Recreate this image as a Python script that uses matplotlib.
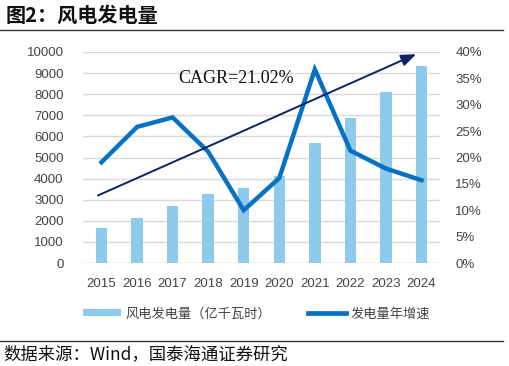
import matplotlib
matplotlib.use("Agg")
import matplotlib.pyplot as plt
from matplotlib.lines import Line2D
from matplotlib.patches import Patch
from matplotlib.ticker import FuncFormatter

CJK = ["Noto Sans CJK SC", "DejaVu Sans"]
SERIF = ["Liberation Serif", "Noto Sans CJK SC"]

years = ["2015", "2016", "2017", "2018", "2019", "2020", "2021", "2022", "2023", "2024"]
generation = [1673, 2118, 2700, 3256, 3577, 4146, 5667, 6867, 8090, 9360]  # 亿千瓦时
growth = [19.1, 25.8, 27.6, 21.1, 10.0, 16.1, 36.7, 21.3, 17.9, 15.7]      # %
left_ticks = list(range(0, 10001, 1000))
right_ticks = list(range(0, 41, 5))
cagr_label = "CAGR=21.02%"
arrow_start = (-0.1, 12.8)   # (x index, %)
arrow_end = (8.85, 39.6)

BAR_C = "#8ECAEB"
LINE_C = "#0872C2"
ARROW_C = "#0C2466"
GRID_C = "#D9D9D9"
TICK_C = "#444444"

fig = plt.figure(figsize=(5.1, 3.66), dpi=100)
ax = fig.add_axes([83 / 510, 1 - 263 / 366, (440 - 83) / 510, (263 - 52) / 366])
ax2 = ax.twinx()

x = list(range(len(years)))
ax.bar(x, generation, width=0.32, color=BAR_C, zorder=2)
ax.set_ylim(0, 10000)
ax.set_yticks(left_ticks)
ax.set_xlim(-0.52, 9.52)
ax.set_xticks(x)
ax.set_xticklabels(years)
ax.grid(axis="y", color=GRID_C, linewidth=1.0, zorder=0)
ax.set_axisbelow(True)

ax2.plot(x, growth, color=LINE_C, linewidth=3.2, solid_joinstyle="miter", zorder=3)
ax2.set_ylim(0, 40)
ax2.set_yticks(right_ticks)
ax2.yaxis.set_major_formatter(FuncFormatter(lambda v, p: f"{v:.0f}%"))

ax2.annotate("", xy=arrow_end, xytext=arrow_start,
             arrowprops=dict(arrowstyle="-|>,head_length=0.9,head_width=0.35",
                             color=ARROW_C, lw=1.4, shrinkA=0, shrinkB=0), zorder=4)
ax2.text(2.15, 35.0, cagr_label, fontsize=13, family=SERIF, color="#111111",
         ha="left", va="center", zorder=5)

for a in (ax, ax2):
    for s in a.spines.values():
        s.set_visible(False)
    a.tick_params(length=0, labelsize=9.5, colors=TICK_C)
    for lab in a.get_xticklabels() + a.get_yticklabels():
        lab.set_family("Liberation Sans")
ax.tick_params(axis="y", pad=14)
ax.tick_params(axis="x", pad=11)
ax2.tick_params(axis="y", pad=11)
ax.axhline(0, color=GRID_C, linewidth=1.0, zorder=1)

handles = [Patch(facecolor=BAR_C, edgecolor="none"),
           Line2D([0], [0], color=LINE_C, linewidth=3.4)]
leg = fig.legend(handles, ["风电发电量（亿千瓦时）", "发电量年增速"],
                 loc="center left", bbox_to_anchor=(71 / 510, 1 - 314 / 366), ncol=2,
                 frameon=False, prop={"family": CJK, "size": 9.5},
                 handlelength=2.9, handleheight=0.45, columnspacing=2.75,
                 handletextpad=0.35)
for t in leg.get_texts():
    t.set_color(TICK_C)

# title, rules and source
fig.text(0.010, 1 - 15 / 366, "图2：风电发电量", fontsize=14.5, fontweight="bold",
         family=CJK, ha="left", va="center", color="#111111")
fig.add_artist(Line2D([0, 503 / 510], [1 - 30 / 366] * 2, color="#333333", linewidth=1.0))
fig.add_artist(Line2D([0, 503 / 510], [1 - 340.5 / 366] * 2, color="#333333", linewidth=1.0))
fig.text(0.006, 1 - 354 / 366, "数据来源：Wind，国泰海通证券研究", fontsize=12.5,
         family=CJK, ha="left", va="center", color="#111111")

fig.savefig("out.png", dpi=100)
